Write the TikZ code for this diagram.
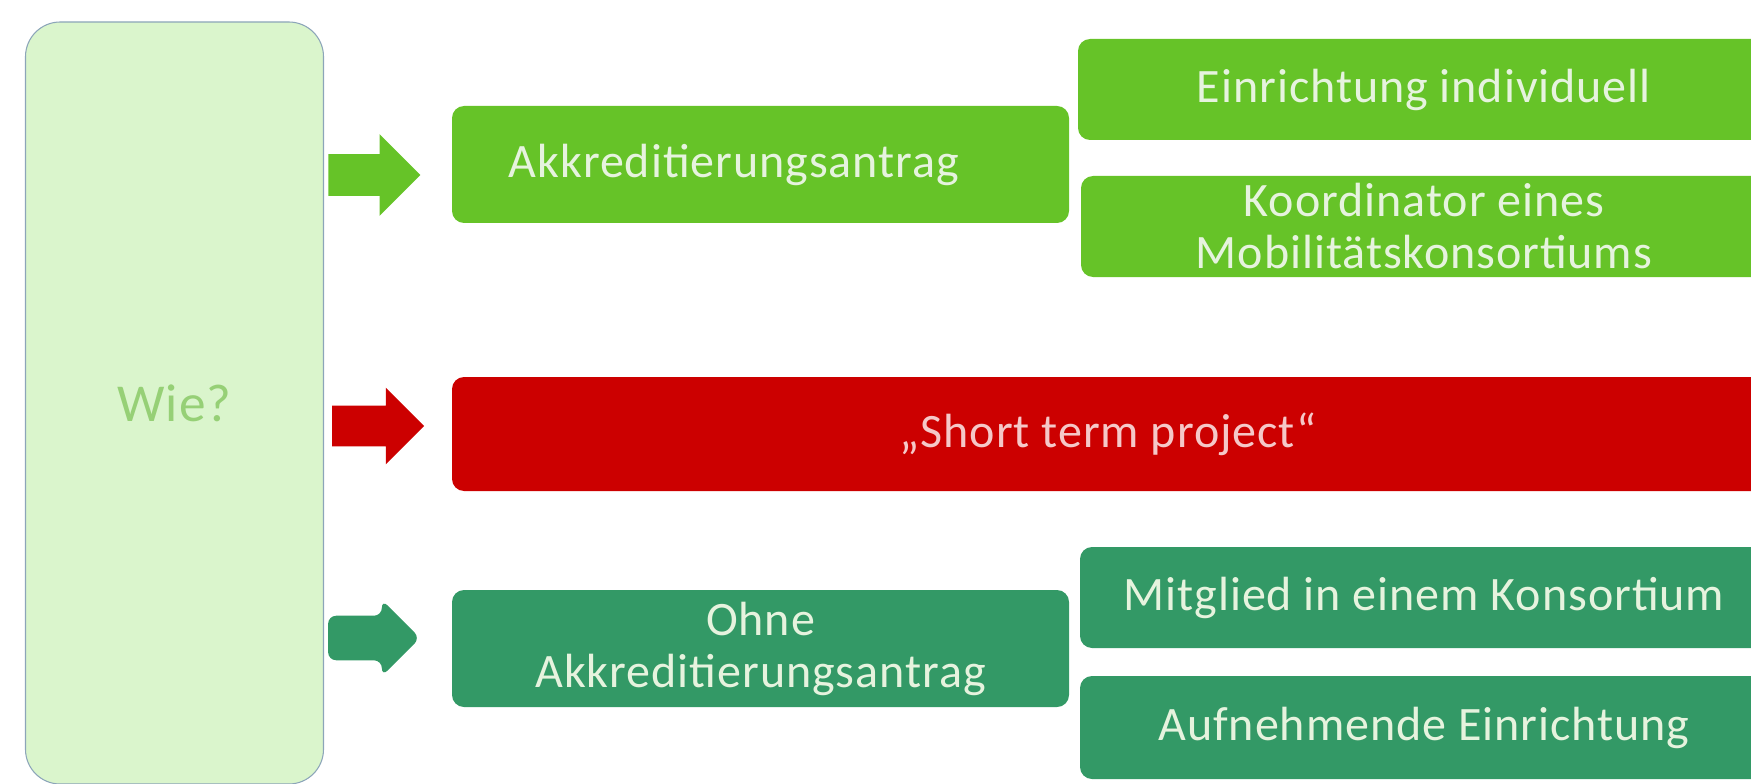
\documentclass[tikz,border=0pt]{standalone}
\usepackage{fontspec}
\setmainfont[LetterSpace=2]{Carlito}
\usepackage{tikz}
\usetikzlibrary{shapes.arrows}

\definecolor{wiefill}{RGB}{218,245,204}
\definecolor{wiedraw}{RGB}{140,165,185}
\definecolor{wietext}{RGB}{150,208,118}
\definecolor{hellgruen}{RGB}{102,195,40}
\definecolor{rot}{RGB}{204,0,0}
\definecolor{dunkelgruen}{RGB}{51,153,102}
\definecolor{hellschrift}{RGB}{230,243,222}
\definecolor{rotschrift}{RGB}{245,200,200}

\begin{document}
\begin{tikzpicture}[x=0.75pt,y=0.75pt,yscale=-1,xscale=1,
  box/.style={rounded corners=9pt, inner sep=0pt, align=center, text=hellschrift,
    font=\fontsize{36}{39}\selectfont},
  pfeil/.style={single arrow, draw=none, inner xsep=0pt, inner ysep=15.5pt,
    minimum height=69pt, single arrow head extend=15pt}]
%set diagram to the size of the reference
\useasboundingbox (0,0) rectangle (1751,784);
\clip (0,0) rectangle (1751,784);

%Rounded Rect: Wie?
\node [fill=wiefill, draw=wiedraw, line width=0.8pt, rounded corners=26pt,
  minimum width=223.5pt, minimum height=571.5pt, text=wietext,
  font=\fontsize{40}{44}\selectfont] (wie) at (174.5,403) {Wie?};

%Block Arrows
\node [pfeil, fill=hellgruen] (pfeilA) at (364,175) {};
\node [pfeil, fill=rot, inner ysep=15pt, single arrow head extend=13.5pt] (pfeilB) at (368,426) {};
\node [pfeil, fill=dunkelgruen, inner ysep=16.5pt, single arrow head extend=12pt,
  rounded corners=6pt] (pfeilC) at (363,638) {};

%Rounded Rect: mit Akkreditierung
\node [box, fill=hellgruen, minimum width=462.75pt, minimum height=87.75pt] (akk) at (760.5,164.5) {\hspace*{-40pt}Akkreditierungsantrag};
\node [box, fill=hellgruen, minimum width=519pt, minimum height=75.75pt] (einz) at (1424,89.5) {Einrichtung individuell};
\node [box, fill=hellgruen, minimum width=514.5pt, minimum height=75.75pt] (koord) at (1424,226.5) {Koordinator eines\\Mobilitätskonsortiums};

%Rounded Rect: Short term project
\node [box, fill=rot, text=rotschrift, minimum width=984pt, minimum height=85.5pt] (kurz) at (1108,434) {„Short term project“};

%Rounded Rect: ohne Akkreditierung
\node [box, fill=dunkelgruen, minimum width=462.75pt, minimum height=87.75pt] (ohne) at (760.5,648.5) {Ohne\\Akkreditierungsantrag};
\node [box, fill=dunkelgruen, minimum width=516pt, minimum height=75.75pt] (mitgl) at (1424,597.5) {Mitglied in einem Konsortium};
\node [box, fill=dunkelgruen, minimum width=516pt, minimum height=77.25pt] (aufn) at (1424,727.5) {Aufnehmende Einrichtung};

\end{tikzpicture}
\end{document}
